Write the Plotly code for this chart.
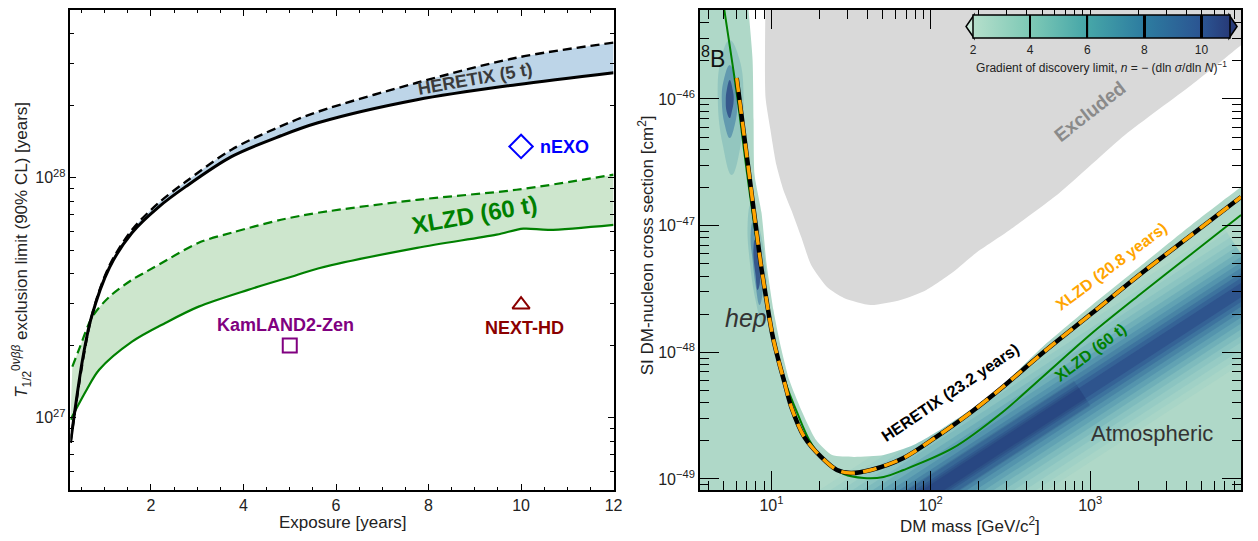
import plotly.graph_objects as go

W, H = 1258, 541
FONT = "Liberation Sans, Arial, Helvetica, sans-serif"

# ================= LEFT PANEL DATA (0vbb exclusion limit vs exposure) =================
heretix5t_solid_exposure = [0.26, 0.52, 0.71, 1.10, 1.59, 2.17, 2.75, 3.74, 4.81, 5.61, 7.75, 9.90, 12.0]
heretix5t_solid_log10T = [26.896, 27.242, 27.417, 27.625, 27.771, 27.879, 27.963, 28.088, 28.175,
                          28.229, 28.325, 28.388, 28.438]
heretix5t_dashed_exposure = [0.26, 0.71, 1.10, 1.59, 2.17, 2.75, 3.74, 4.81, 5.61, 7.75, 9.90, 12.0]
heretix5t_dashed_log10T = [26.896, 27.417, 27.633, 27.783, 27.896, 27.983, 28.117, 28.215, 28.275,
                           28.396, 28.500, 28.563]
xlzd60t_solid_exposure = [0.26, 0.61, 0.88, 1.59, 2.32, 3.03, 4.10, 5.11, 5.61, 7.75, 9.47, 10.05, 10.6, 12.0]
xlzd60t_solid_log10T = [26.992, 27.117, 27.200, 27.317, 27.396, 27.463, 27.533, 27.592, 27.622,
                        27.708, 27.763, 27.788, 27.783, 27.804]
xlzd60t_dashed_exposure = [0.30, 0.455, 0.73, 1.10, 1.59, 1.89, 2.17, 3.03, 3.74, 4.81, 5.61, 7.75, 9.90, 12.0]
xlzd60t_dashed_log10T = [27.213, 27.290, 27.420, 27.504, 27.575, 27.608, 27.638, 27.729, 27.771,
                         27.825, 27.854, 27.908, 27.950, 28.013]

other_names = ["KamLAND2-Zen", "nEXO", "NEXT-HD"]
other_exposure = [5, 10, 10]
other_T = [2.0e27, 1.35e28, 2.96e27]

left_yticks = [1e27, 1e28]
left_yticklabels = ["10<sup>27</sup>", "10<sup>28</sup>"]

# ================= RIGHT PANEL DATA (SI WIMP discovery limits) =================
heretix_dm_log10m = [0.7819, 0.8567, 0.9315, 0.9688, 1.0062, 1.0436, 1.0810, 1.1246, 1.2056, 1.3115,
                     1.4112, 1.4984, 1.6231, 1.8287, 2.0343, 2.2461, 2.4517, 2.7009, 3.0125, 3.3240,
                     3.6355, 3.9470]
heretix_dm_log10sig = [-45.835, -46.561, -47.287, -47.587, -47.863, -48.061, -48.234, -48.432, -48.668,
                       -48.826, -48.929, -48.953, -48.929, -48.834, -48.668, -48.479, -48.274, -48.006,
                       -47.690, -47.374, -47.074, -46.774]
# XLZD (20.8 years) coincides with HERETIX (23.2 years)
xlzd208_dm_log10m = list(heretix_dm_log10m)
xlzd208_dm_log10sig = list(heretix_dm_log10sig)

xlzd60t_dm_log10m = [0.6947, 0.7882, 0.8442, 0.9065, 0.9688, 1.0312, 1.0935, 1.1620, 1.2368, 1.3302,
                     1.4548, 1.5794, 1.7040, 1.8287, 2.1402, 2.4517, 2.7009, 3.0125, 3.3240, 3.6355, 3.9470]
xlzd60t_dm_log10sig = [-45.219, -46.009, -46.561, -47.114, -47.587, -47.982, -48.258, -48.479, -48.692,
                       -48.850, -48.961, -48.992, -48.984, -48.929, -48.755, -48.471, -48.195, -47.848,
                       -47.532, -47.224, -46.916]

# upper edge of the coloured gradient map (white above it)
gradmap_edge_log10m = [0.8505, 0.8816, 0.8879, 0.8941, 0.9377, 0.9688, 1.0125, 1.0561, 1.1121, 1.1869,
                       1.2804, 1.3801, 1.5171, 1.7040, 1.8910, 2.0779, 2.2648, 2.4517, 2.7009, 3.0125,
                       3.3240, 3.6355, 3.9470, 4.0000, 4.0000, 0.8505]
gradmap_edge_log10sig = [-45.219, -45.693, -46.167, -46.599, -46.899, -47.295, -47.666, -47.942, -48.219,
                         -48.455, -48.692, -48.811, -48.826, -48.811, -48.732, -48.597, -48.440, -48.258,
                         -47.958, -47.627, -47.311, -46.995, -46.695, -46.650, -45.200, -45.200]

# excluded region
excluded_log10m = [0.9626, 0.9626, 0.9938, 1.0312, 1.0748, 1.1246, 1.1869, 1.2492, 1.3489, 1.4548,
                   1.6231, 1.8100, 1.9720, 2.1402, 2.2835, 2.4953, 2.8069, 3.2181, 3.6355, 3.9470,
                   4.0093, 4.0093]
excluded_log10sig = [-45.219, -45.985, -46.245, -46.522, -46.719, -46.877, -47.090, -47.311, -47.485,
                     -47.571, -47.627, -47.587, -47.508, -47.366, -47.216, -47.035, -46.743, -46.285,
                     -45.890, -45.575, -45.511, -45.219]

# neutrino-fog features: contours of the steep-gradient regions (outer, middle, core)
b8_contours_log10m = [
    [0.7383, 0.8006, 0.8255, 0.8069, 0.7508, 0.6947, 0.6636, 0.6822, 0.7383],
    [0.7383, 0.7757, 0.7882, 0.7695, 0.7383, 0.7072, 0.6885, 0.7009, 0.7383],
    [0.7383, 0.7570, 0.7632, 0.7508, 0.7383, 0.7196, 0.7134, 0.7196, 0.7383],
]
b8_contours_log10sig = [
    [-45.535, -45.693, -46.009, -46.364, -46.601, -46.364, -46.009, -45.693, -45.535],
    [-45.732, -45.851, -46.009, -46.206, -46.309, -46.206, -46.009, -45.851, -45.732],
    [-45.851, -45.930, -46.009, -46.103, -46.151, -46.103, -46.009, -45.930, -45.851],
]
hep_contours_log10m = [
    [0.8692, 0.9191, 0.9627, 0.9689, 0.9440, 0.9004, 0.8630, 0.8505, 0.8692],
    [0.8817, 0.9129, 0.9378, 0.9440, 0.9253, 0.9004, 0.8817, 0.8692, 0.8817],
    [0.8942, 0.9129, 0.9253, 0.9253, 0.9129, 0.9004, 0.8879, 0.8879, 0.8942],
]
hep_contours_log10sig = [
    [-46.837, -46.995, -47.311, -47.587, -47.785, -47.587, -47.271, -46.995, -46.837],
    [-46.972, -47.114, -47.335, -47.532, -47.627, -47.469, -47.271, -47.098, -46.972],
    [-47.114, -47.208, -47.335, -47.469, -47.508, -47.390, -47.256, -47.169, -47.114],
]
atmos_log10m = [1.20, 4.05]
atmos_log10sig = [-49.754, -47.424]
atmos_core_log10m = [1.20, 2.95]
atmos_core_log10sig = [-49.754, -48.323]

# colour bar (gradient n)
cbar_values = [2, 4, 6, 8, 10, 11]
cbar_colors = ["#b5dfcb", "#7ec9b6", "#46a6a8", "#2d7ca0", "#2b5592", "#273a78"]
cbar_dividers = [4, 6, 8, 10]
cbar_labels_at = [2, 4, 6, 8, 10]
cbar_minor_ticks = [2.5, 3, 3.5, 4.5, 5, 5.5, 6.5, 7, 7.5, 8.5, 9, 9.5, 10.5]

right_xticks = [10, 100, 1000]
right_xticklabels = ["10<sup>1</sup>", "10<sup>2</sup>", "10<sup>3</sup>"]
right_yticks = [1e-49, 1e-48, 1e-47, 1e-46]
right_yticklabels = ["10<sup>−49</sup>", "10<sup>−48</sup>", "10<sup>−47</sup>", "10<sup>−46</sup>"]


def pow10(vals):
    return [10 ** v for v in vals]


def px(x):
    return x / W


def py(y):
    return 1 - y / H


fig = go.Figure()

# ---------------- left panel ----------------
GREEN = "#008000"
SPL = dict(shape="spline", smoothing=0.9)
fig.add_trace(go.Scatter(x=xlzd60t_solid_exposure, y=pow10(xlzd60t_solid_log10T), mode="lines",
                         line=dict(color=GREEN, width=2.2, **SPL), xaxis="x", yaxis="y"))
fig.add_trace(go.Scatter(x=xlzd60t_dashed_exposure, y=pow10(xlzd60t_dashed_log10T), mode="lines",
                         line=dict(color=GREEN, width=2.2, dash="9px,5px", **SPL), fill="tonexty",
                         fillcolor="#cde6cd", xaxis="x", yaxis="y"))
fig.add_trace(go.Scatter(x=heretix5t_solid_exposure, y=pow10(heretix5t_solid_log10T), mode="lines",
                         line=dict(color="black", width=3, **SPL), xaxis="x", yaxis="y"))
fig.add_trace(go.Scatter(x=heretix5t_dashed_exposure, y=pow10(heretix5t_dashed_log10T), mode="lines",
                         line=dict(color="black", width=2.4, dash="9px,5px", **SPL), fill="tonexty",
                         fillcolor="#bdd5e8", xaxis="x", yaxis="y"))
marker_styles = [("square-open", "#800080", 14), ("diamond-open", "#0000ff", 18), ("triangle-up-open", "#8b0000", 15)]
for i, name in enumerate(other_names):
    sym, col, sz = marker_styles[i]
    fig.add_trace(go.Scatter(x=[other_exposure[i]], y=[other_T[i]], mode="markers",
                             marker=dict(symbol=sym, size=sz, color=col, line=dict(width=2, color=col)),
                             xaxis="x", yaxis="y"))

# ---------------- right panel ----------------
# atmospheric band (soft gradient built from stacked translucent strokes)
band_styles = [(124, "rgba(140,200,195,0.18)"), (112, "rgba(125,192,192,0.18)"),
               (100, "rgba(110,180,188,0.20)"), (88, "rgba(95,168,183,0.20)"),
               (77, "rgba(80,155,178,0.22)"), (66, "rgba(68,140,172,0.24)"),
               (56, "rgba(58,126,165,0.26)"), (46, "rgba(50,110,158,0.28)"),
               (37, "rgba(45,96,150,0.30)"), (28, "rgba(41,82,142,0.32)"),
               (20, "rgba(38,70,134,0.34)"), (12, "rgba(35,58,125,0.36)")]
for w, c in band_styles:
    fig.add_trace(go.Scatter(x=pow10(atmos_log10m), y=pow10(atmos_log10sig), mode="lines",
                             line=dict(color=c, width=w), xaxis="x2", yaxis="y2"))
for w, c in [(30, "rgba(30,50,110,0.15)"), (16, "rgba(30,50,110,0.22)")]:
    fig.add_trace(go.Scatter(x=pow10(atmos_core_log10m), y=pow10(atmos_core_log10sig), mode="lines",
                             line=dict(color=c, width=w), xaxis="x2", yaxis="y2"))
# 8B and hep blobs
blob_fills = ["rgba(95,165,175,0.35)", "rgba(50,110,160,0.50)", "rgba(35,60,125,0.70)"]
for k in range(3):
    fig.add_trace(go.Scatter(x=pow10(b8_contours_log10m[k]), y=pow10(b8_contours_log10sig[k]),
                             mode="lines", fill="toself", fillcolor=blob_fills[k],
                             line=dict(width=0, color="rgba(0,0,0,0)", shape="spline", smoothing=1.2),
                             xaxis="x2", yaxis="y2"))
    fig.add_trace(go.Scatter(x=pow10(hep_contours_log10m[k]), y=pow10(hep_contours_log10sig[k]),
                             mode="lines", fill="toself", fillcolor=blob_fills[k],
                             line=dict(width=0, color="rgba(0,0,0,0)", shape="spline", smoothing=1.2),
                             xaxis="x2", yaxis="y2"))
# white region above the gradient map
fig.add_trace(go.Scatter(x=pow10(gradmap_edge_log10m), y=pow10(gradmap_edge_log10sig), mode="lines",
                         fill="toself", fillcolor="white",
                         line=dict(width=0, color="rgba(0,0,0,0)", shape="spline", smoothing=0.6),
                         xaxis="x2", yaxis="y2"))
# excluded region
fig.add_trace(go.Scatter(x=pow10(excluded_log10m), y=pow10(excluded_log10sig), mode="lines",
                         fill="toself", fillcolor="#d9d9d9",
                         line=dict(width=0, color="rgba(0,0,0,0)", shape="spline", smoothing=0.6),
                         xaxis="x2", yaxis="y2"))
# discovery limits
fig.add_trace(go.Scatter(x=pow10(xlzd60t_dm_log10m), y=pow10(xlzd60t_dm_log10sig), mode="lines",
                         line=dict(color=GREEN, width=2, **SPL), xaxis="x2", yaxis="y2"))
fig.add_trace(go.Scatter(x=pow10(heretix_dm_log10m), y=pow10(heretix_dm_log10sig), mode="lines",
                         line=dict(color="black", width=4.5, **SPL), xaxis="x2", yaxis="y2"))
fig.add_trace(go.Scatter(x=pow10(xlzd208_dm_log10m), y=pow10(xlzd208_dm_log10sig), mode="lines",
                         line=dict(color="#ffa500", width=3.5, dash="14px,8px", **SPL), xaxis="x2", yaxis="y2"))

# colour bar via an empty trace
lo, hi = cbar_values[0], cbar_values[-1]
frac = lambda v: (v - lo) / (hi - lo)
cscale = []
eps = 0.0048
for v, c in zip(cbar_values, cbar_colors):
    f = frac(v)
    if v in cbar_dividers:
        cscale += [[f - eps - 0.0002, c], [f - eps, "black"], [f + eps, "black"], [f + eps + 0.0002, c]]
    else:
        cscale.append([f, c])
cb_left, cb_right, cb_top, cb_thick = 981, 1238, 15, 23
fig.add_trace(go.Scatter(
    x=[None], y=[None], mode="markers", xaxis="x2", yaxis="y2",
    marker=dict(color=[lo], cmin=lo, cmax=hi, colorscale=cscale, showscale=True,
                colorbar=dict(orientation="h", x=px((cb_left + cb_right) / 2), xanchor="center",
                              y=py(cb_top), yanchor="top", len=cb_right - cb_left, lenmode="pixels",
                              thickness=cb_thick, thicknessmode="pixels", xpad=0, ypad=0,
                              outlinewidth=1.5, outlinecolor="black", bgcolor="rgba(0,0,0,0)",
                              tickmode="array", tickvals=cbar_labels_at,
                              ticktext=[str(v) for v in cbar_labels_at],
                              ticks="", tickfont=dict(family=FONT, size=12, color="#222"),
                              title=dict(text="Gradient of discovery limit, <i>n</i> = − (dln <i>σ</i>/dln <i>N</i>)<sup>−1</sup>",
                                         side="bottom", font=dict(family=FONT, size=12, color="#222"))))))

# ---------------- axes ----------------
def minor(length, **kw):
    d = dict(ticks="inside", ticklen=length, tickwidth=1, tickcolor="black", showgrid=False)
    d.update(kw)
    return d


def axstyle(ticklen, **kw):
    d = dict(showline=True, linecolor="black", linewidth=1.6, mirror="allticks", ticks="inside",
             ticklen=ticklen, tickwidth=1.4, tickcolor="black", showgrid=False, zeroline=False,
             tickfont=dict(family=FONT, size=16, color="#222"))
    d.update(kw)
    return d


yd = [py(490), py(10)]
layout_axes = dict(
    xaxis=axstyle(6, domain=[px(71), px(618)], range=[0.26, 12], tick0=0, dtick=2, anchor="y",
                  minor=minor(3.5, dtick=0.5, tick0=0)),
    yaxis=axstyle(6, domain=yd, type="log", range=[26.699, 28.699], tickmode="array",
                  tickvals=left_yticks, ticktext=left_yticklabels, anchor="x", minor=minor(3.5, dtick="D1")),
    xaxis2=axstyle(19, domain=[px(705), px(1250)], type="log", range=[0.5514, 3.947], tickmode="array",
                   tickvals=right_xticks, ticktext=right_xticklabels, anchor="y2", minor=minor(9, dtick="D1")),
    yaxis2=axstyle(19, domain=yd, type="log", range=[-49.087, -45.298], tickmode="array",
                   tickvals=right_yticks, ticktext=right_yticklabels, anchor="x2", minor=minor(9, dtick="D1")),
)


def ann(x, y, text, size=14, color="#222", angle=0, bold=False, italic=False, xanchor="center"):
    t = text
    if bold:
        t = "<b>" + t + "</b>"
    if italic:
        t = "<i>" + t + "</i>"
    return dict(x=px(x), y=py(y), xref="paper", yref="paper", text=t, showarrow=False, textangle=angle,
                xanchor=xanchor, yanchor="middle", font=dict(family=FONT, size=size, color=color))


annotations = [
    ann(345, 522, "Exposure [years]", 17),
    ann(21, 250, "<i>T</i><sub>1/2</sub><sup>0<i>νββ</i></sup> exclusion limit (90% CL) [years]", 17, angle=-90),
    ann(478, 79, "HERETIX (5 t)", 18, "#3a3a3a", angle=-10, bold=True),
    ann(478, 214, "XLZD (60 t)", 24, GREEN, angle=-10, bold=True),
    ann(288, 325, "KamLAND2-Zen", 18, "#800080", bold=True),
    ann(569, 147, "nEXO", 18, "#0000ff", bold=True),
    ann(528, 328, "NEXT-HD", 18, "#8b0000", bold=True),
    ann(977, 525, "DM mass [GeV/c<sup>2</sup>]", 17),
    ann(651, 245, "SI DM-nucleon cross section [cm<sup>2</sup>]", 17, angle=-90),
    ann(718, 57, "<sup>8</sup>B", 23, "#111"),
    ann(751, 318, "hep", 25, "#333", italic=True),
    ann(1098, 112, "Excluded", 19, "#8a8a8a", angle=-38, bold=True),
    ann(1160, 433, "Atmospheric", 22, "#333"),
    ann(957, 392, "HERETIX (23.2 years)", 16, "black", angle=-34, bold=True),
    ann(1119, 266, "XLZD (20.8 years)", 16, "#ffa500", angle=-37, bold=True),
    ann(1098, 352, "XLZD (60 t)", 16, GREEN, angle=-37, bold=True),
]

cb_mid = cb_top + cb_thick / 2
cb_bot = cb_top + cb_thick
shapes = [
    dict(type="rect", xref="x2 domain", yref="y2 domain", x0=0, x1=1, y0=0, y1=1,
         fillcolor="#afd8c8", line=dict(width=0), layer="below"),
    dict(type="path", xref="paper", yref="paper",
         path=f"M {px(cb_left)} {py(cb_top)} L {px(cb_left - 8)} {py(cb_mid)} L {px(cb_left)} {py(cb_bot)} Z",
         fillcolor="#cdeadb", line=dict(color="black", width=1.5), layer="above"),
    dict(type="path", xref="paper", yref="paper",
         path=f"M {px(cb_right)} {py(cb_top)} L {px(cb_right + 8)} {py(cb_mid)} L {px(cb_right)} {py(cb_bot)} Z",
         fillcolor="#273a78", line=dict(color="black", width=1.5), layer="above"),
]
for v in cbar_minor_ticks:
    xx = cb_left + frac(v) * (cb_right - cb_left)
    shapes.append(dict(type="line", xref="paper", yref="paper", x0=px(xx), x1=px(xx),
                       y0=py(cb_bot), y1=py(cb_bot - 8), line=dict(color="black", width=1), layer="above"))

fig.update_layout(
    width=W, height=H, margin=dict(l=0, r=0, t=0, b=0),
    paper_bgcolor="white", plot_bgcolor="white", showlegend=False,
    font=dict(family=FONT, color="#222"),
    annotations=annotations, shapes=shapes, **layout_axes,
)

fig.write_html("out.html")
